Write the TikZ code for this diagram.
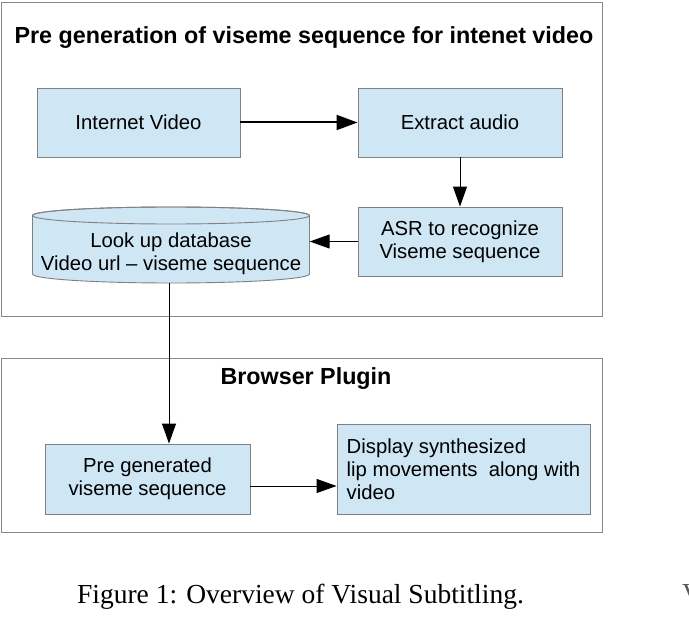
\documentclass[tikz,border=0pt]{standalone}
\usepackage{fontspec}
\setmainfont{Liberation Serif}
\newfontfamily\diagfont{Liberation Sans}
\usetikzlibrary{arrows.meta}
\definecolor{boxfill}{RGB}{207,230,244}
\definecolor{boxline}{RGB}{128,128,128}
\definecolor{frameline}{RGB}{136,136,136}
\begin{document}
\begin{tikzpicture}[x=1pt,y=-1pt,
  frame/.style={draw=frameline,line width=1pt},
  procbox/.style={draw=boxline,fill=boxfill,line width=0.9pt,inner sep=0pt,
    font=\diagfont\fontsize{20.3}{23}\selectfont,align=center},
  titletext/.style={font=\diagfont\bfseries\fontsize{23.3}{27}\selectfont,inner sep=0pt},
  flow/.style={-{Triangle[length=20pt,width=14pt]},line width=1pt,black},
  bigflow/.style={-{Triangle[length=21pt,width=15pt]},line width=2pt,black}
]
\useasboundingbox (0,0) rectangle (689,634);
% frames
\node[frame,minimum width=601pt,minimum height=314pt,anchor=north west,inner sep=0pt] (topframe) at (0.5,2) {};
\node[frame,minimum width=601pt,minimum height=174pt,anchor=north west,inner sep=0pt] (botframe) at (0.5,358) {};
\node[titletext] (toptitle) at (304,38) {Pre generation of viseme sequence for intenet video};
\node[titletext] (bottitle) at (306,379) {Browser Plugin};
% boxes
\node[procbox,minimum width=203pt,minimum height=69pt] (iv) at (138.5,122.5) {Internet Video};
\node[procbox,minimum width=204pt,minimum height=69pt] (ea) at (460,122.5) {Extract audio};
\node[procbox,minimum width=204pt,minimum height=69pt] (asr) at (460,241.5) {ASR to recognize\\Viseme sequence};
% cylinder
\path[draw=boxline,fill=boxfill,line width=0.9pt]
  (32.5,215.5) -- (32.5,274) arc[start angle=180,end angle=360,x radius=138.5,y radius=-9]
  -- (309.5,215.5) arc[start angle=0,end angle=180,x radius=138.5,y radius=-8.5] -- cycle;
\draw[boxline,line width=0.9pt] (171,215.5) ellipse[x radius=138.5,y radius=8.5];
\node[font=\diagfont\fontsize{20.3}{23}\selectfont,align=center,inner sep=0pt,
  minimum width=277pt,minimum height=59pt] (db) at (171,254) {Look up database\\Video url \textendash{} viseme sequence};
\coordinate (dbbottom) at (169,283);
\node[procbox,minimum width=205pt,minimum height=70pt] (pg) at (147.5,479) {Pre generated\\viseme sequence};
\node[procbox,minimum width=253pt,minimum height=90pt,align=left] (disp) at (463.5,469) {Display synthesized\\lip movements\ \ along with\\video};
% connectors
\draw[bigflow] (iv.east) -- (ea.west);
\draw[flow] (ea.south) -- (asr.north);
\draw[flow] (asr.west) -- (db.east |- asr.west);
\draw[flow] (dbbottom) -- (dbbottom |- pg.north);
\draw[flow] (pg.east |- 0,486) -- (disp.west |- 0,486);
% caption
\node[font=\fontsize{27.5}{32}\selectfont,inner sep=0pt] (caption) at (300.5,597) {Figure 1: Overview of Visual Subtitling.};
\node[font=\fontsize{27.5}{32}\selectfont,inner sep=0pt,text=black!65,anchor=west] (frag) at (682,594) {V};
\end{tikzpicture}
\end{document}
